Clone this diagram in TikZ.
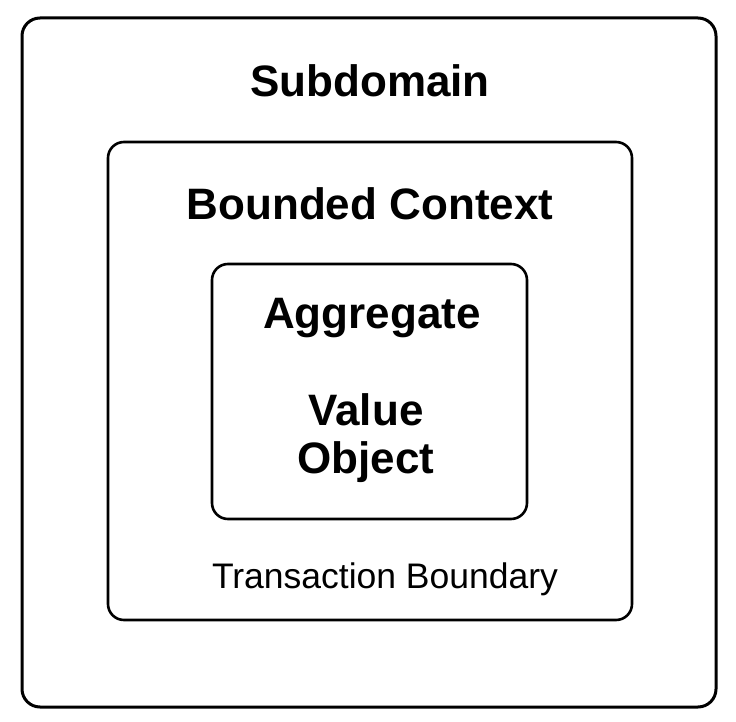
\documentclass[tikz,border=0pt]{standalone}
\usepackage{fontspec}
\setmainfont{Liberation Sans}
\begin{document}
\begin{tikzpicture}[x=1pt,y=-1pt,
  box/.style={draw=black,line width=3pt,rounded corners=18pt},
  title/.style={font=\bfseries\fontsize{44}{48}\selectfont,inner sep=0pt,anchor=center},
  note/.style={font=\fontsize{35.5}{40}\selectfont,inner sep=0pt,anchor=center}]
\useasboundingbox (0,0) rectangle (736,722);
\draw[box] (22,18) rectangle (716,707);
\draw[box,line width=2.6pt,rounded corners=16pt] (108,142) rectangle (632,620);
\draw[box,line width=2.6pt,rounded corners=16pt] (212,264) rectangle (527,519);
\node[title] (sub) at (370,81) {Subdomain};
\node[title] (bc) at (370,204) {Bounded Context};
\node[title] (agg) at (372,318) {Aggregate};
\node[title,align=center] (vo) at (366,438) {Value\\Object};
\node[note] (tb) at (385,579) {Transaction Boundary};
\end{tikzpicture}
\end{document}
